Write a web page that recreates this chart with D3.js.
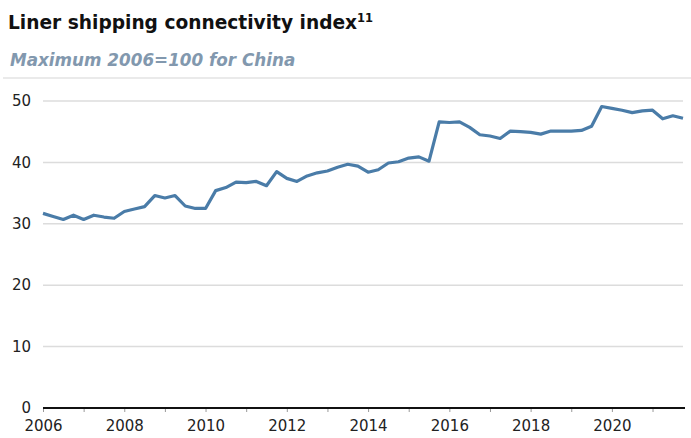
<!DOCTYPE html>
<html><head><meta charset="utf-8">
<script src="https://cdn.jsdelivr.net/npm/d3@7"></script>
<style>body{margin:0;background:#fff}svg{display:block}</style>
</head><body>
<svg id="c" width="691" height="438"></svg>
<script>
const years = [2006,2008,2010,2012,2014,2016,2018,2020];
const yTicks = [0,10,20,30,40,50];
const startYear = 2006;
const values = [31.7,31.2,30.7,31.4,30.7,31.4,31.1,30.9,32.0,32.4,32.8,34.6,34.2,34.6,32.9,32.5,
32.5,35.4,35.9,36.8,36.7,36.9,36.2,38.5,37.4,36.9,37.8,38.3,38.6,39.2,39.7,39.4,
38.4,38.8,39.9,40.1,40.7,40.9,40.2,46.6,46.5,46.6,45.7,44.5,44.3,43.9,45.1,45.0,
44.9,44.6,45.1,45.1,45.1,45.2,45.9,49.1,48.8,48.5,48.1,48.4,48.5,47.1,47.6,47.2];
const data = values.map((v,i)=>({t:startYear+i/4,v}));

const svg = d3.select("#c");
const font = "'DejaVu Sans', Verdana, sans-serif";
const mL=43,mR=683,mT=101,mB=408;
const x = d3.scaleLinear().domain([2006,2021.75]).range([mL,mR]);
const y = d3.scaleLinear().domain([0,50]).range([mB,mT]);

// Title
const t = svg.append("text").attr("x",8).attr("y",29).attr("font-family",font)
  .attr("font-weight","bold").attr("font-size",18.6).attr("fill","#111");
t.append("tspan").text("Liner shipping connectivity index");
t.append("tspan").attr("font-size",11.5).attr("dy",-7).text("11");
svg.append("text").attr("x",10).attr("y",66).attr("font-family",font)
  .attr("font-weight","bold").attr("font-style","italic").attr("font-size",16.8)
  .attr("fill","#8298ae").text("Maximum 2006=100 for China");
svg.append("line").attr("x1",3).attr("x2",691).attr("y1",78).attr("y2",78)
  .attr("stroke","#e3e3e3").attr("stroke-width",1.5);

// grid
svg.append("g").selectAll("line").data(yTicks.filter(d=>d>0)).join("line")
  .attr("x1",mL).attr("x2",mR).attr("y1",d=>y(d)).attr("y2",d=>y(d))
  .attr("stroke","#dcdcdc").attr("stroke-width",1.5);

// y labels
svg.append("g").selectAll("text").data(yTicks).join("text")
  .attr("x",31).attr("y",d=>y(d)).attr("dy","0.35em").attr("text-anchor","end")
  .attr("font-family",font).attr("font-size",15).attr("fill","#222").text(d=>d);

// x axis
const xAxis = d3.axisBottom(x).tickValues(d3.range(2006,2022)).tickSize(4)
  .tickFormat(d=>years.includes(d)?d:"");
const gx = svg.append("g").attr("transform",`translate(0,${mB})`).call(xAxis);
gx.select(".domain").remove();
gx.selectAll(".tick line").attr("stroke","#999").attr("stroke-width",1);
gx.selectAll(".tick text").attr("font-family",font).attr("font-size",15)
  .attr("fill","#222").attr("y",12);
svg.append("line").attr("x1",mL).attr("x2",mR+2).attr("y1",mB).attr("y2",mB)
  .attr("stroke","#111").attr("stroke-width",2);

// line
svg.append("path").datum(data)
  .attr("d",d3.line().x(d=>x(d.t)).y(d=>y(d.v)))
  .attr("fill","none").attr("stroke","#4a7ca8").attr("stroke-width",3.2)
  .attr("stroke-linejoin","round");
</script>
</body></html>
